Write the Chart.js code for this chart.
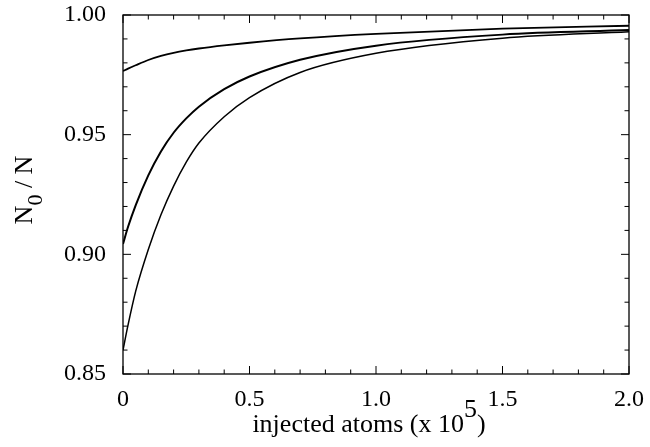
<!DOCTYPE html>
<html>
<head>
<meta charset="utf-8">
<script src="https://cdn.jsdelivr.net/npm/chart.js@4"></script>
<style>
  html, body { margin: 0; padding: 0; background: #fff; }
  #wrap { width: 650px; height: 447px; }
</style>
</head>
<body>
<div id="wrap"><canvas id="ratioChart" width="650" height="447"></canvas></div>
<script>
// injected atoms (x 10^5)
var injected = [0, 0.02, 0.05, 0.1, 0.15, 0.2, 0.25, 0.3, 0.4, 0.5, 0.7, 1.0, 1.5, 2.0];
// N0 / N for the three curves
var upperCurve  = [0.9766, 0.9776, 0.9790, 0.9812, 0.9829, 0.9842, 0.9852, 0.9860, 0.9873, 0.9884, 0.9902, 0.9921, 0.9943, 0.9955];
var middleCurve = [0.9043, 0.9115, 0.9205, 0.9330, 0.9430, 0.9508, 0.9568, 0.9617, 0.9690, 0.9743, 0.9813, 0.9872, 0.9918, 0.9937];
var lowerCurve  = [0.8600, 0.8705, 0.8845, 0.9020, 0.9165, 0.9285, 0.9385, 0.9465, 0.9575, 0.9655, 0.9760, 0.9840, 0.9903, 0.9930];

var xTicks = [0, 0.5, 1.0, 1.5, 2.0];
var yTicks = [0.85, 0.90, 0.95, 1.00];

var serif = '"Liberation Serif", "Times New Roman", serif';

function toPoints(ys) {
    return injected.map(function (x, i) { return { x: x, y: ys[i] }; });
}

function curve(ys, width) {
    return {
        data: toPoints(ys),
        borderColor: '#000',
        borderWidth: width,
        pointRadius: 0,
        fill: false,
        cubicInterpolationMode: 'monotone'
    };
}

// frame, inward ticks on all four sides, and the axis titles
var framePlugin = {
    id: 'frame',
    afterDraw: function (chart) {
        var ctx = chart.ctx;
        var a = chart.chartArea;
        var xs = chart.scales.x, ys = chart.scales.y;
        var i, p;
        ctx.save();
        ctx.strokeStyle = '#000';
        ctx.lineWidth = 1.3;
        ctx.strokeRect(a.left, a.top, a.right - a.left, a.bottom - a.top);

        ctx.lineWidth = 1;
        ctx.beginPath();
        for (i = 0; i <= 20; i++) {
            p = xs.getPixelForValue(i * 0.1);
            var lx = (i % 5 === 0) ? 8 : 4.5;
            ctx.moveTo(p, a.bottom); ctx.lineTo(p, a.bottom - lx);
            ctx.moveTo(p, a.top); ctx.lineTo(p, a.top + lx);
        }
        for (i = 0; i <= 15; i++) {
            p = ys.getPixelForValue(0.85 + i * 0.01);
            var ly = (i % 5 === 0) ? 8 : 4.5;
            ctx.moveTo(a.left, p); ctx.lineTo(a.left + ly, p);
            ctx.moveTo(a.right, p); ctx.lineTo(a.right - ly, p);
        }
        ctx.stroke();

        // x title with raised exponent
        ctx.fillStyle = '#000';
        ctx.textBaseline = 'alphabetic';
        ctx.textAlign = 'left';
        ctx.font = '26px ' + serif;
        var main = 'injected atoms (x 10', sup = '5', tail = ')';
        var w1 = ctx.measureText(main).width;
        var w2 = ctx.measureText(sup).width;
        var w3 = ctx.measureText(tail).width;
        var sx = 369 - (w1 + w2 + w3) / 2;
        var base = 432;
        ctx.fillText(main, sx, base);
        ctx.fillText(sup, sx + w1, base - 15);
        ctx.fillText(tail, sx + w1 + w2, base);

        // y title N0 / N, rotated
        ctx.translate(32, 190);
        ctx.rotate(-Math.PI / 2);
        ctx.font = '26px ' + serif;
        var n = 'N', rest = ' / N';
        var wn = ctx.measureText(n).width;
        var wr = ctx.measureText(rest).width;
        ctx.font = '22px ' + serif;
        var wz = ctx.measureText('0').width;
        var tx = -(wn + wz + wr) / 2;
        ctx.font = '26px ' + serif;
        ctx.fillText(n, tx, 0);
        ctx.fillText(rest, tx + wn + wz, 0);
        ctx.font = '22px ' + serif;
        ctx.fillText('0', tx + wn, 10);
        ctx.restore();
    }
};

Chart.defaults.font.family = serif;
Chart.defaults.font.size = 24;
Chart.defaults.color = '#000';

var ratioChart = new Chart(document.getElementById('ratioChart').getContext('2d'), {
    type: 'line',
    data: {
        datasets: [
            curve(upperCurve, 1.8),
            curve(middleCurve, 2),
            curve(lowerCurve, 1.5)
        ]
    },
    options: {
        responsive: false,
        animation: false,
        layout: { padding: { left: 0, right: 21, top: 15, bottom: 0 } },
        plugins: {
            legend: { display: false },
            tooltip: { enabled: false }
        },
        scales: {
            x: {
                type: 'linear',
                min: 0,
                max: 2,
                grid: { display: false, drawTicks: false },
                border: { display: false },
                afterBuildTicks: function (scale) {
                    scale.ticks = xTicks.map(function (v) { return { value: v }; });
                },
                afterFit: function (scale) {
                    scale.height = 73;
                    scale.paddingLeft = 0;
                    scale.paddingRight = 0;
                },
                ticks: {
                    padding: 11,
                    maxRotation: 0,
                    callback: function (v) { return v === 0 ? '0' : v.toFixed(1); }
                }
            },
            y: {
                type: 'linear',
                min: 0.85,
                max: 1.0,
                grid: { display: false, drawTicks: false },
                border: { display: false },
                afterBuildTicks: function (scale) {
                    scale.ticks = yTicks.map(function (v) { return { value: v }; });
                },
                afterFit: function (scale) {
                    scale.width = 123;
                    scale.paddingTop = 0;
                    scale.paddingBottom = 0;
                },
                ticks: {
                    padding: 17,
                    callback: function (v) { return v.toFixed(2); }
                }
            }
        }
    },
    plugins: [framePlugin]
});
</script>
</body>
</html>
